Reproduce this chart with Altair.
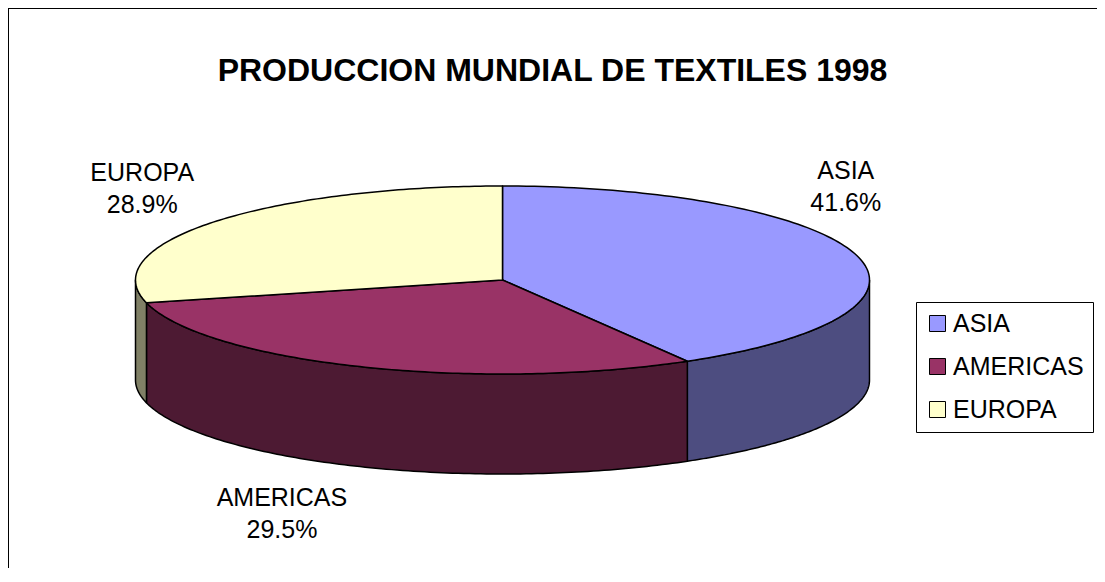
import altair as alt
import pandas as pd

# ---------------- data ----------------
categories = ["ASIA", "AMERICAS", "EUROPA"]
shares = [41.6, 29.5, 28.9]
title_text = "PRODUCCION MUNDIAL DE TEXTILES 1998"

# ---------------- styles ----------------
top_colors = ["#9999FF", "#993366", "#FFFFCC"]
side_colors = ["#4D4D80", "#4D1A33", "#808066"]
FONT = "Liberation Sans"

# pie geometry (in page pixels, mapped through linear scales)
CX, CY, RX, RY, DEPTH = 502.5, 280, 367, 94, 100
N = 120
W, H = 1089, 560

# label offsets from the slice edge anchor (style)
label_offsets = {"ASIA": (-11, -84), "AMERICAS": (-78, 31), "EUROPA": (-71, -49)}

df = pd.DataFrame({"cat": categories, "share": shares, "idx": list(range(len(categories)))})

xs = alt.Scale(domain=[8, 8 + W], nice=False, zero=False)
ys = alt.Scale(domain=[8, 8 + H], reverse=True, nice=False, zero=False)

base = (
    alt.Chart(df)
    .transform_window(cum="sum(share)", sort=[alt.SortField("idx")], frame=[None, 0])
    .transform_joinaggregate(total="sum(share)")
    .transform_calculate(a0="(datum.cum - datum.share) / datum.total * 2 * PI")
    .transform_calculate(a1="datum.cum / datum.total * 2 * PI")
)

# ---- side walls (front half only) ----
side = (
    base.transform_calculate(b0="max(datum.a0, PI / 2)")
    .transform_calculate(b1="min(datum.a1, 3 * PI / 2)")
    .transform_filter("datum.b1 > datum.b0")
    .transform_calculate(s=f"sequence(0, {2 * N + 3})")
    .transform_flatten(["s"])
    .transform_calculate(
        k=f"datum.s <= {N} ? datum.s : (datum.s <= {2 * N + 1} ? {2 * N + 1} - datum.s : 0)"
    )
    .transform_calculate(low=f"(datum.s > {N} && datum.s <= {2 * N + 1}) ? 1 : 0")
    .transform_calculate(t=f"datum.b0 + (datum.b1 - datum.b0) * datum.k / {N}")
    .transform_calculate(px=f"{CX} + {RX} * sin(datum.t)")
    .transform_calculate(py=f"{CY} - {RY} * cos(datum.t) + datum.low * {DEPTH}")
    .mark_line(stroke="black", strokeWidth=1.5, strokeJoin="round")
    .encode(
        x=alt.X("px:Q", scale=xs, axis=None),
        y=alt.Y("py:Q", scale=ys, axis=None),
        order=alt.Order("s:Q"),
        detail="cat:N",
        fill=alt.Fill("cat:N", scale=alt.Scale(domain=categories, range=side_colors), legend=None),
    )
)

# ---- top face ----
top = (
    base.transform_calculate(s=f"sequence(-1, {N + 2})")
    .transform_flatten(["s"])
    .transform_calculate(t=f"datum.a0 + (datum.a1 - datum.a0) * clamp(datum.s, 0, {N}) / {N}")
    .transform_calculate(
        px=f"(datum.s < 0 || datum.s > {N}) ? {CX} : {CX} + {RX} * sin(datum.t)"
    )
    .transform_calculate(
        py=f"(datum.s < 0 || datum.s > {N}) ? {CY} : {CY} - {RY} * cos(datum.t)"
    )
    .mark_line(stroke="black", strokeWidth=1.5, strokeJoin="round")
    .encode(
        x=alt.X("px:Q", scale=xs, axis=None),
        y=alt.Y("py:Q", scale=ys, axis=None),
        order=alt.Order("s:Q"),
        detail="cat:N",
        fill=alt.Fill(
            "cat:N",
            scale=alt.Scale(domain=categories, range=top_colors),
            sort=categories,
            legend=alt.Legend(
                title=None,
                orient="none",
                legendX=908,
                legendY=294,
                symbolType="square",
                symbolSize=256,
                symbolStrokeColor="black",
                symbolStrokeWidth=1,
                symbolOpacity=1,
                labelFont=FONT,
                labelFontSize=25,
                labelColor="black",
                labelOffset=3,
                strokeColor="black",
                fillColor="white",
                padding=9,
                rowPadding=17,
            ),
        ),
    )
)

# ---- labels ----
lab_base = (
    base.transform_calculate(mid="(datum.a0 + datum.a1) / 2")
    .transform_calculate(lx=f"{CX} + {RX} * sin(datum.mid)")
    .transform_calculate(ly=f"{CY} - {RY} * cos(datum.mid) + (cos(datum.mid) < 0 ? {DEPTH} : 0)")
    .transform_calculate(label="datum.cat + '\\n' + format(datum.share, '.1f') + '%'")
)
label_layers = []
for c in categories:
    dx, dy = label_offsets[c]
    label_layers.append(
        lab_base.transform_filter(alt.datum.cat == c)
        .mark_text(
            font=FONT, fontSize=25, color="black", lineBreak="\n", lineHeight=32,
            align="center", baseline="middle", dx=dx, dy=dy,
        )
        .encode(
            x=alt.X("lx:Q", scale=xs, axis=None),
            y=alt.Y("ly:Q", scale=ys, axis=None),
            text="label:N",
        )
    )

# ---- frame (left and top border) ----
frame_src = alt.Chart(pd.DataFrame({"k": [0]}))
frame_left = frame_src.mark_rule(color="black", strokeWidth=2).encode(
    x=alt.value(0), y=alt.value(0), y2=alt.value(H)
)
frame_top = frame_src.mark_rule(color="black", strokeWidth=2).encode(
    x=alt.value(0), x2=alt.value(W), y=alt.value(0)
)

chart = (
    alt.layer(frame_left, frame_top, side, top, *label_layers)
    .resolve_scale(fill="independent")
    .properties(
        width=W,
        height=H,
        padding=0,
        autosize=alt.AutoSizeParams(type="none"),
        title=alt.TitleParams(
            title_text,
            font=FONT,
            fontSize=32,
            fontWeight="bold",
            color="black",
            anchor="middle",
            frame="group",
            baseline="alphabetic",
            dy=110,
        ),
    )
    .configure_view(stroke=None)
)

chart.save("out.html", embed_options={"renderer": "svg", "actions": False})
